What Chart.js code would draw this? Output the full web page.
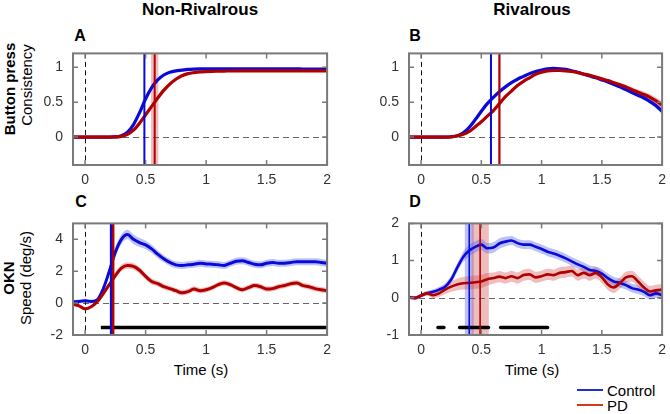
<!DOCTYPE html>
<html>
<head>
<meta charset="utf-8">
<script src="https://cdn.jsdelivr.net/npm/chart.js@4.4.1/dist/chart.umd.min.js"></script>
<style>
  body { margin: 0; background: #fff; width: 670px; height: 414px; position: relative; overflow: hidden;
         font-family: "Liberation Sans", Arial, sans-serif; }
  canvas { position: absolute; }
  .t { position: absolute; white-space: nowrap; color: #000; transform: translate(-50%, -50%); }
  .rot { transform: translate(-50%, -50%) rotate(-90deg); }
  .b { font-weight: bold; }
  .leg { position: absolute; height: 2px; width: 26px; }
</style>
</head>
<body>
<div class="t b" style="left:200px;top:10px;font-size:17px">Non-Rivalrous</div>
<div class="t b" style="left:532px;top:10px;font-size:17px">Rivalrous</div>

<div class="t b" style="left:80px;top:36px;font-size:16px">A</div>
<div class="t b" style="left:415px;top:36px;font-size:16px">B</div>
<div class="t b" style="left:81px;top:202px;font-size:16px">C</div>
<div class="t b" style="left:415px;top:202px;font-size:16px">D</div>

<div class="t rot b" style="left:9px;top:89px;font-size:15px">Button press</div>
<div class="t rot" style="left:26px;top:85px;font-size:15px">Consistency</div>
<div class="t rot b" style="left:8px;top:278px;font-size:15px">OKN</div>
<div class="t rot" style="left:25px;top:278px;font-size:15px">Speed (deg/s)</div>

<div class="t" style="left:201px;top:369px;font-size:15px">Time (s)</div>
<div class="t" style="left:532px;top:369px;font-size:15px">Time (s)</div>

<div class="leg" style="left:577px;top:389px;background:#2030d0"></div>
<div class="t" style="left:607px;top:390px;font-size:15px;transform:translate(0,-50%)">Control</div>
<div class="leg" style="left:577px;top:404px;background:#d43a1a"></div>
<div class="t" style="left:607px;top:405px;font-size:15px;transform:translate(0,-50%)">PD</div>

<canvas id="cA"></canvas>
<canvas id="cB"></canvas>
<canvas id="cC"></canvas>
<canvas id="cD"></canvas>

<script>
// time axis (s)
const times = [-0.1,-0.05,0,0.05,0.1,0.15,0.2,0.25,0.3,0.35,0.4,0.45,0.5,0.55,0.6,0.65,0.7,0.75,0.8,0.85,0.9,0.95,1,
  1.05,1.1,1.15,1.2,1.25,1.3,1.35,1.4,1.45,1.5,1.55,1.6,1.65,1.7,1.75,1.8,1.85,1.9,1.95,2];

const xTicks = [0, 0.5, 1, 1.5, 2];

// A: button press consistency, non-rivalrous
const aControl = [0,0,0,0,0,0,0,0.002,0.02,0.07,0.18,0.35,0.55,0.71,0.82,0.89,0.93,0.95,0.96,0.97,0.975,0.978,0.98,
  0.98,0.98,0.98,0.98,0.98,0.98,0.98,0.98,0.98,0.98,0.98,0.98,0.98,0.98,0.98,0.975,0.975,0.975,0.975,0.97];
const aControlSE = [0.004,0.004,0.004,0.004,0.004,0.004,0.004,0.006,0.01,0.015,0.02,0.02,0.02,0.02,0.018,0.015,0.012,
  0.01,0.01,0.01,0.01,0.01,0.01,0.01,0.01,0.01,0.01,0.01,0.01,0.01,0.01,0.01,0.01,0.01,0.01,0.01,0.01,0.01,0.01,0.01,0.01,0.01,0.01];
const aPD = [0,0,0,0,0,0,0,0.002,0.01,0.04,0.1,0.2,0.32,0.44,0.56,0.67,0.76,0.83,0.88,0.91,0.925,0.935,0.94,
  0.943,0.945,0.947,0.948,0.95,0.95,0.95,0.95,0.95,0.95,0.95,0.95,0.95,0.95,0.95,0.95,0.95,0.95,0.95,0.95];
const aPDSE = [0.004,0.004,0.004,0.004,0.004,0.004,0.004,0.006,0.01,0.015,0.02,0.025,0.03,0.03,0.03,0.03,0.025,0.02,0.018,
  0.015,0.015,0.015,0.015,0.015,0.015,0.015,0.015,0.015,0.015,0.015,0.015,0.015,0.015,0.015,0.015,0.015,0.015,0.015,0.015,0.015,0.015,0.015,0.015];

// B: button press consistency, rivalrous
const bControl = [0,0,0,0,0,0,0,0.005,0.02,0.06,0.14,0.25,0.37,0.48,0.57,0.65,0.72,0.78,0.83,0.87,0.91,0.94,0.96,
  0.98,0.985,0.98,0.97,0.95,0.93,0.9,0.875,0.85,0.82,0.79,0.755,0.72,0.68,0.64,0.6,0.56,0.51,0.45,0.37];
const bControlSE = [0.004,0.004,0.004,0.004,0.004,0.004,0.004,0.006,0.01,0.015,0.015,0.015,0.015,0.015,0.015,0.015,0.015,
  0.015,0.015,0.015,0.015,0.015,0.015,0.015,0.015,0.015,0.015,0.015,0.015,0.015,0.015,0.016,0.018,0.02,0.02,0.022,0.024,
  0.026,0.028,0.03,0.032,0.036,0.04];
const bPD = [0,0,0,0,0,0,0,0.003,0.015,0.04,0.08,0.15,0.22,0.3,0.38,0.48,0.58,0.66,0.74,0.8,0.85,0.9,0.93,
  0.95,0.955,0.955,0.95,0.94,0.925,0.905,0.885,0.86,0.835,0.81,0.78,0.75,0.72,0.68,0.645,0.61,0.57,0.52,0.46];
const bPDSE = [0.004,0.004,0.004,0.004,0.004,0.004,0.004,0.006,0.01,0.015,0.015,0.015,0.015,0.015,0.015,0.015,0.015,
  0.015,0.015,0.015,0.015,0.015,0.015,0.015,0.015,0.015,0.015,0.015,0.015,0.016,0.018,0.02,0.022,0.024,0.026,0.028,
  0.03,0.033,0.036,0.04,0.044,0.048,0.05];

// C: OKN speed, non-rivalrous
const cControl = [0.08,0.1,0.15,0.1,0.2,0.9,2.0,3.2,4.0,4.3,4.0,3.8,3.65,3.4,3.07,2.78,2.55,2.4,2.36,2.4,2.44,2.5,2.46,
  2.44,2.4,2.36,2.5,2.63,2.65,2.55,2.44,2.4,2.5,2.55,2.5,2.5,2.55,2.6,2.6,2.6,2.6,2.55,2.5];
const cControlSE = [0.12,0.12,0.12,0.12,0.15,0.2,0.25,0.28,0.3,0.3,0.3,0.28,0.27,0.26,0.25,0.22,0.22,0.22,0.22,0.22,0.22,
  0.22,0.22,0.22,0.22,0.22,0.22,0.22,0.22,0.22,0.22,0.22,0.22,0.22,0.22,0.22,0.22,0.22,0.22,0.22,0.22,0.22,0.22];
const cPD = [-0.08,-0.17,-0.36,-0.23,0.08,0.6,1.16,1.73,2.2,2.36,2.3,2.06,1.68,1.35,1.22,1.03,0.91,0.78,0.65,0.72,0.88,
  0.78,0.84,0.97,1.16,1.26,1.16,0.97,0.84,0.97,1.1,1.03,0.88,0.91,1.03,1.1,1.22,1.26,1.1,1.03,0.91,0.84,0.78];
const cPDSE = [0.1,0.1,0.1,0.1,0.12,0.15,0.18,0.2,0.2,0.2,0.2,0.2,0.2,0.19,0.18,0.17,0.17,0.17,0.17,0.17,0.17,0.17,0.17,
  0.17,0.17,0.17,0.17,0.17,0.17,0.17,0.17,0.17,0.17,0.17,0.17,0.17,0.17,0.17,0.17,0.17,0.17,0.17,0.17];

// D: OKN speed, rivalrous
const dControl = [0.01,0,0.06,0.12,0.16,0.22,0.3,0.49,0.81,1.1,1.27,1.37,1.43,1.33,1.35,1.46,1.51,1.54,1.47,1.43,1.43,
  1.37,1.31,1.24,1.19,1.13,1.06,0.98,0.9,0.83,0.75,0.72,0.65,0.53,0.44,0.4,0.34,0.26,0.22,0.16,0.07,0.12,0.07];
const dControlSE = [0.05,0.05,0.05,0.06,0.07,0.08,0.09,0.1,0.12,0.14,0.15,0.15,0.15,0.14,0.14,0.14,0.13,0.12,0.12,0.12,
  0.12,0.12,0.12,0.12,0.12,0.12,0.12,0.12,0.12,0.12,0.12,0.12,0.12,0.12,0.12,0.12,0.12,0.12,0.12,0.12,0.12,0.12,0.12];
const dPD = [0.01,-0.01,0.06,0.12,0.07,0.12,0.22,0.3,0.36,0.39,0.4,0.42,0.44,0.5,0.53,0.57,0.53,0.58,0.53,0.61,0.63,
  0.55,0.58,0.63,0.61,0.67,0.69,0.72,0.61,0.67,0.61,0.67,0.55,0.36,0.28,0.4,0.55,0.58,0.44,0.28,0.17,0.2,0.22];
const dPDSE = [0.04,0.05,0.05,0.06,0.08,0.1,0.12,0.14,0.16,0.17,0.18,0.18,0.18,0.17,0.15,0.15,0.15,0.15,0.15,0.15,0.15,
  0.15,0.15,0.15,0.15,0.15,0.15,0.15,0.15,0.15,0.15,0.15,0.15,0.15,0.15,0.15,0.15,0.15,0.15,0.15,0.15,0.15,0.15];

// mean response times [control, PD] and their SE
const aRT = [0.49, 0.575], aRTse = [0.004, 0.03];
const bRT = [0.58, 0.65],  bRTse = [0.008, 0.012];
const cRT = [0.215, 0.232], cRTse = [0.004, 0.004];
const dRT = [0.40, 0.49],  dRTse = [0.037, 0.072];

// significant time windows
const cSig = [[0.13, 2.0]];
const dSig = [[0.14, 0.19], [0.32, 0.56], [0.66, 1.05]];
const cSigLevel = -1.53, dSigLevel = -0.8;

const BLUE = '#0a0ad8', RED = '#b00000';
const BLUE_BAND = 'rgba(80,95,240,0.38)', RED_BAND = 'rgba(205,70,70,0.35)';
const FRAME = '#7a7a7a';

const pts = (ys) => times.map((t, i) => ({ x: t, y: ys[i] }));
const lo = (ys, se) => times.map((t, i) => ({ x: t, y: ys[i] - se[i] }));
const hi = (ys, se) => times.map((t, i) => ({ x: t, y: ys[i] + se[i] }));

function sigData(spans, level) {
  const out = [];
  spans.forEach(s => { out.push({ x: s[0], y: level }, { x: s[1], y: level }, { x: s[1], y: null }); });
  return out;
}

function makePanel(id, box, yMin, yMax, yTicks, ctl, ctlSE, pd, pdSE, rt, rtSE, rtW, lw, sig) {
  const cv = document.getElementById(id);
  const padL = 50, padT = 8, padR = 10, padB = 30;
  cv.width = box.r - box.l + padL + padR;
  cv.height = box.b - box.t + padT + padB;
  cv.style.left = (box.l - padL) + 'px';
  cv.style.top = (box.t - padT) + 'px';

  const line = (data, color, order) => ({ data, borderColor: color, borderWidth: lw, pointRadius: 0,
    fill: false, cubicInterpolationMode: 'monotone', order });
  const band = (data, color, order, fill) => ({ data, borderWidth: 0, pointRadius: 0, backgroundColor: color,
    fill, cubicInterpolationMode: 'monotone', order });

  const datasets = [
    band(lo(ctl, ctlSE), BLUE_BAND, 5, false),
    band(hi(ctl, ctlSE), BLUE_BAND, 5, '-1'),
    band(lo(pd, pdSE), RED_BAND, 4, false),
    band(hi(pd, pdSE), RED_BAND, 4, '-1'),
    line(pts(ctl), BLUE, 2),
    line(pts(pd), RED, 1),
  ];
  if (sig) {
    datasets.push({ data: sigData(sig.spans, sig.level), borderColor: '#000', borderWidth: sig.w,
      borderCapStyle: sig.cap, pointRadius: 0, spanGaps: false, fill: false, order: 0 });
  }

  const overlay = {
    id: 'overlay',
    beforeDatasetsDraw(chart) {
      const { ctx, chartArea: a, scales: { x, y } } = chart;
      ctx.save();
      // SE bands of the response times
      [BLUE_BAND, RED_BAND].forEach((c, i) => {
        const x1 = x.getPixelForValue(rt[i] - rtSE[i]), x2 = x.getPixelForValue(rt[i] + rtSE[i]);
        ctx.fillStyle = c;
        ctx.fillRect(x1, a.top, x2 - x1, a.bottom - a.top);
      });
      ctx.lineWidth = 1;
      ctx.strokeStyle = '#666';
      ctx.setLineDash([6, 4]);
      const y0 = Math.round(y.getPixelForValue(0)) + 0.5;
      ctx.beginPath(); ctx.moveTo(a.left, y0); ctx.lineTo(a.right, y0); ctx.stroke();
      ctx.strokeStyle = '#111';
      ctx.setLineDash([5, 3.5]);
      const x0 = Math.round(x.getPixelForValue(0)) + 0.5;
      ctx.beginPath(); ctx.moveTo(x0, a.top); ctx.lineTo(x0, a.bottom); ctx.stroke();
      ctx.restore();
    },
    afterDatasetsDraw(chart) {
      const { ctx, chartArea: a, scales: { x, y } } = chart;
      ctx.save();
      ctx.setLineDash([]);
      [BLUE, RED].forEach((c, i) => {
        const xp = x.getPixelForValue(rt[i]);
        ctx.strokeStyle = c;
        ctx.lineWidth = rtW;
        ctx.beginPath(); ctx.moveTo(xp, a.top); ctx.lineTo(xp, a.bottom); ctx.stroke();
      });
      // grey box with short inward ticks
      ctx.strokeStyle = FRAME;
      ctx.lineWidth = 2;
      ctx.strokeRect(a.left, a.top, a.right - a.left, a.bottom - a.top);
      ctx.lineWidth = 1.5;
      ctx.beginPath();
      xTicks.forEach(v => {
        const p = x.getPixelForValue(v);
        ctx.moveTo(p, a.bottom); ctx.lineTo(p, a.bottom - 5);
        ctx.moveTo(p, a.top); ctx.lineTo(p, a.top + 5);
      });
      yTicks.forEach(v => {
        const p = y.getPixelForValue(v);
        ctx.moveTo(a.left, p); ctx.lineTo(a.left + 5, p);
        ctx.moveTo(a.right, p); ctx.lineTo(a.right - 5, p);
      });
      ctx.stroke();
      ctx.restore();
    }
  };

  const tickFont = { family: '"Liberation Sans", Arial, sans-serif', size: 14 };

  return new Chart(cv, {
    type: 'line',
    data: { datasets },
    plugins: [overlay],
    options: {
      responsive: false,
      animation: false,
      layout: { padding: { top: padT, right: padR, left: 0, bottom: 0 } },
      plugins: { legend: { display: false }, tooltip: { enabled: false } },
      scales: {
        x: {
          type: 'linear', min: -0.1, max: 2,
          afterBuildTicks: s => { s.ticks = xTicks.map(v => ({ value: v })); },
          afterFit: s => { s.height = padB; },
          grid: { display: false, drawTicks: false },
          border: { display: false },
          ticks: { padding: 7, color: '#333', font: tickFont, maxRotation: 0, autoSkip: false,
                   callback: v => String(v) }
        },
        y: {
          type: 'linear', min: yMin, max: yMax,
          afterBuildTicks: s => { s.ticks = yTicks.map(v => ({ value: v })); },
          afterFit: s => { s.width = padL; },
          grid: { display: false, drawTicks: false },
          border: { display: false },
          ticks: { padding: 10, color: '#333', font: tickFont, callback: v => String(v) }
        }
      }
    }
  });
}

makePanel('cA', { l: 73, t: 43, r: 328, b: 165 }, -0.4, 1.2, [0, 0.5, 1],
  aControl, aControlSE, aPD, aPDSE, aRT, aRTse, 2, 3.2, null);
makePanel('cB', { l: 409, t: 43, r: 663, b: 165 }, -0.4, 1.2, [0, 0.5, 1],
  bControl, bControlSE, bPD, bPDSE, bRT, bRTse, 2, 3.2, null);
makePanel('cC', { l: 73, t: 213, r: 328, b: 335 }, -2, 5, [-2, 0, 2, 4],
  cControl, cControlSE, cPD, cPDSE, cRT, cRTse, 2.5, 3,
  { spans: cSig, level: cSigLevel, w: 3.5, cap: 'butt' });
makePanel('cD', { l: 409, t: 213, r: 663, b: 335 }, -1, 2, [-1, 0, 1, 2],
  dControl, dControlSE, dPD, dPDSE, dRT, dRTse, 1.6, 2.6,
  { spans: dSig, level: dSigLevel, w: 3.5, cap: 'round' });
</script>
</body>
</html>
